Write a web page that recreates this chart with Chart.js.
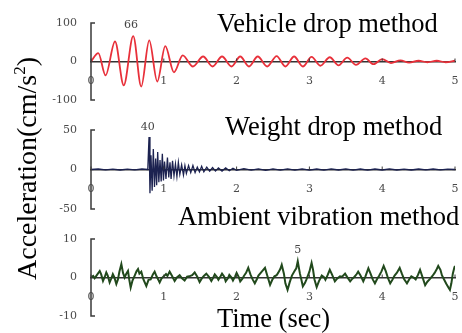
<!DOCTYPE html>
<html><head><meta charset="utf-8">
<script src="https://cdn.jsdelivr.net/npm/chart.js@4.4.1/dist/chart.umd.min.js"></script>
<style>
html,body{margin:0;padding:0;background:#fff;}
#wrap{position:relative;width:462px;height:333px;overflow:hidden;font-family:"Liberation Serif","Times New Roman",serif;}
canvas{position:absolute;left:0;}
.t{position:absolute;font-size:26.5px;color:#000;white-space:nowrap;line-height:1;}
#ylab{position:absolute;left:13px;top:280px;font-size:28px;line-height:1;white-space:nowrap;transform-origin:left top;transform:rotate(-90deg);}
</style></head><body>
<div id="wrap">
<canvas id="c1" width="462" height="110" style="top:0px"></canvas>
<canvas id="c2" width="462" height="110" style="top:110px"></canvas>
<canvas id="c3" width="462" height="113" style="top:220px"></canvas>
<div class="t" style="left:217px;top:10px">Vehicle drop method</div>
<div class="t" style="left:225px;top:113px">Weight drop method</div>
<div class="t" style="left:178px;top:203px">Ambient vibration method</div>
<div class="t" style="left:217px;top:305px">Time (sec)</div>
<div id="ylab">Acceleration(cm/s<span style="font-size:17px;position:relative;top:-11px">2</span>)</div>
</div>
<script>
// ---- data ----
const xTickLabels = [0, 1, 2, 3, 4, 5];

const vehicleTime = [0, 0.10, 0.20, 0.33, 0.45, 0.58, 0.69, 0.80, 0.91, 1.02,
  1.14, 1.26, 1.40, 1.54, 1.67, 1.80, 1.93, 2.05, 2.17, 2.29,
  2.42, 2.55, 2.67, 2.79, 2.91, 3.03, 3.15, 3.28, 3.40, 3.52,
  3.64, 3.77, 3.88, 4.00, 4.12, 4.25, 4.37, 4.50, 4.62, 4.75,
  4.87, 5.00];
const vehicleAccel = [0, 22, -36, 52, -62, 66, -65, 55, -52, 40,
  -28, 16, -13, 13, -13, 13, -13, 13, -13, 13,
  -13, 14, -13, 13, -13, 12, -11, 11, -10, 10,
  -9, 8, -7, 6, -4, 3, -3, 2, -2, 2,
  -2, 2];

const weightTime = [0, 0.1, 0.2, 0.3, 0.4, 0.5, 0.6, 0.7, 0.78,
  0.797, 0.81, 0.824, 0.84, 0.856, 0.872, 0.888, 0.902, 0.916, 0.932,
  0.948, 0.964, 0.98, 0.995, 1.01, 1.03, 1.05, 1.068, 1.085, 1.10,
  1.12, 1.14, 1.16, 1.18, 1.20, 1.22, 1.245, 1.27, 1.29, 1.31,
  1.34, 1.37, 1.40, 1.43, 1.46, 1.49, 1.52, 1.55, 1.59, 1.63,
  1.67, 1.71, 1.75, 1.80, 1.85, 1.90, 1.95, 2.0,
  2.1, 2.2, 2.3, 2.4, 2.5, 2.6, 2.7, 2.8, 2.9, 3.0,
  3.1, 3.2, 3.3, 3.4, 3.5, 3.6, 3.7, 3.8, 3.9, 4.0,
  4.1, 4.2, 4.3, 4.4, 4.5, 4.6, 4.7, 4.8, 4.9, 5.0];
const weightAccel = [0, 0.6, -0.5, 0.5, -0.6, 0.4, -0.5, 0.6, 0,
  41, -30, 18, -27, 26, -22, 14, -20, 22, -16,
  12, -15, 20, -14, 10, -12, 15, -10, 9, -12,
  11, -8, 7, -9, 9, -6, 6, -7, 5, -5,
  5, -4, 5, -4, 3, -3, 4, -3, 3, -2,
  2.5, -2, 2, -2, 2, -1.5, 1.5, -1,
  1, -0.8, 0.8, -1, 0.7, -0.8, 0.9, -0.7, 0.8, -0.8,
  0.6, -0.7, 0.8, -0.6, 0.7, -0.8, 0.6, -0.7, 0.6, -0.6,
  0.7, -0.6, 0.5, -0.6, 0.6, -0.5, 0.6, -0.5, 0.5, 0];

const ambientTime = [0, 0.03, 0.05, 0.08, 0.12, 0.14, 0.165, 0.19, 0.21, 0.23,
  0.256, 0.28, 0.30, 0.32, 0.348, 0.37, 0.39, 0.417, 0.44, 0.462,
  0.485, 0.508, 0.525, 0.545, 0.57, 0.60, 0.625, 0.646, 0.665, 0.691,
  0.72, 0.76, 0.79, 0.82, 0.85, 0.874, 0.90, 0.92, 0.943, 0.97,
  1.00, 1.03, 1.05, 1.08, 1.11, 1.149, 1.18, 1.218, 1.25, 1.286,
  1.32, 1.35, 1.39, 1.424, 1.46, 1.492, 1.52, 1.55, 1.584, 1.62,
  1.653, 1.68, 1.70, 1.73, 1.75, 1.78, 1.80, 1.83, 1.85, 1.88,
  1.90, 1.93, 1.95, 1.98, 2.00, 2.03, 2.05, 2.08, 2.10, 2.13,
  2.16, 2.19, 2.22, 2.25, 2.28, 2.30, 2.34, 2.39, 2.42, 2.46,
  2.49, 2.52, 2.55, 2.57, 2.60, 2.62, 2.65, 2.67, 2.70, 2.73,
  2.76, 2.80, 2.82, 2.84, 2.87, 2.89, 2.91, 2.94, 2.96, 3.00,
  3.03, 3.05, 3.07, 3.10, 3.13, 3.17, 3.20, 3.22, 3.25, 3.28,
  3.31, 3.35, 3.38, 3.42, 3.45, 3.49, 3.52, 3.56, 3.59, 3.62,
  3.65, 3.67, 3.70, 3.74, 3.77, 3.81, 3.84, 3.87, 3.90, 3.93,
  3.96, 3.99, 4.02, 4.05, 4.08, 4.11, 4.14, 4.17, 4.20, 4.24,
  4.27, 4.30, 4.34, 4.37, 4.40, 4.43, 4.46, 4.49, 4.52, 4.55,
  4.59, 4.62, 4.66, 4.69, 4.72, 4.75, 4.77, 4.80, 4.82, 4.85,
  4.88, 4.91, 4.93, 4.95, 4.97, 4.99, 5.00];
const ambientAccel = [0, 0.4, -0.2, 0.6, 1.7, 0.8, -0.9, 0.2, 1.3, 0.5,
  -1.3, -0.2, 0.9, 0.1, -1.7, -0.5, 1.5, 3.5, 1.2, 0,
  1.0, 1.7, -0.5, -2.6, -0.8, 0.5, 1.6, 2.2, 1.0, 1.5,
  -0.5, -2.2, -0.6, -0.5, 0.8, 1.5, 0.3, -0.4, -1.3, -0.2,
  0.3, 0.9, 0.4, 1.5, 0.5, -0.9, 0.0, 0.6, -0.2, -0.8,
  0.2, 0.3, 0.6, 1.3, 0.2, -1.2, -0.3, 0.4, 1.0, 0.2,
  -0.9, 0.0, 0.8, 0.1, -0.6, 0.3, 1.0, 0.2, -1.0, -0.2,
  0.7, 0.0, -0.8, 0.3, 1.2, 0.1, -1.0, -0.3, 0.4, 1.2,
  2.5, 0.8, -0.5, -1.5, -0.4, 0.5, 1.4, 2.5, 0.6, -1.9,
  -0.6, 0.3, 0.6, 1.2, 2.2, 3.3, 1.0, -1.5, -3.2, -1.2,
  0.5, 1.8, 2.4, 4.2, 1.0, -0.6, -2.3, -1.4, -0.5, 1.5,
  3.8, 2.0, -0.5, -2.5, -1.0, 0.5, 0.1, -0.6, 0.6, 2.0,
  0.8, -1.0, -0.3, 0.3, 0.2, 1.0, 0.1, -1.0, -0.3, 0.2,
  0.9, 1.5, 0.6, -1.0, 0.3, 2.4, 1.0, -0.5, -1.5, -0.4,
  0.5, 1.6, 3.0, 1.6, -0.2, -1.5, -0.6, 0.5, 1.2, 2.5,
  1.0, -0.4, -1.5, -0.5, 0.3, 0.0, -0.5, 0.6, 2.0, 0.3,
  -2.0, -1.1, -0.3, 0.4, 1.2, 2.2, 3.0, 2.0, 0.6, -0.5,
  -1.6, -2.6, -3.2, -1.5, 1.0, 2.5, 3.0];

const peakLabels = ['66', '40', '5'];
const peakTimes = [0.55, 0.78, 2.84];
const peakValues = [66, 40, 4.2];
const yLimits = [100, 50, 10];

// ---- drawing ----
const tickFont = {family: 'DejaVu Serif', size: 11};
const deco = {
  id: 'deco',
  afterDraw(chart, args, o) {
    const {ctx} = chart; const x = chart.scales.x, y = chart.scales.y;
    const ax = x.getPixelForValue(0);
    const top = y.getPixelForValue(y.max), bot = y.getPixelForValue(y.min);
    ctx.save();
    ctx.strokeStyle = '#3a3a3a'; ctx.lineWidth = 1.5;
    ctx.beginPath();
    ctx.moveTo(ax + 4, top); ctx.lineTo(ax, top); ctx.lineTo(ax, bot); ctx.lineTo(ax + 4, bot);
    ctx.stroke();
    const y0 = y.getPixelForValue(0);
    ctx.lineWidth = 1;
    x.ticks.forEach(t => {
      const px = x.getPixelForValue(t.value);
      ctx.beginPath(); ctx.moveTo(px, y0); ctx.lineTo(px, y0 - 3); ctx.stroke();
    });
    ctx.fillStyle = '#444'; ctx.font = '11px "DejaVu Serif"';
    ctx.textAlign = 'center'; ctx.textBaseline = 'middle';
    ctx.fillText(o.label, x.getPixelForValue(o.t), y.getPixelForValue(o.v) - 11);
    ctx.restore();
  }
};

function makeChart(id, xs, ys, color, width, lim, padTop, padBottom, smooth, k) {
  const pts = xs.map((t, i) => ({x: t, y: ys[i]}));
  return new Chart(document.getElementById(id), {
    type: 'line',
    data: {datasets: [{data: pts, borderColor: color, borderWidth: width, pointRadius: 0,
      tension: smooth ? 0.4 : 0, cubicInterpolationMode: smooth ? 'monotone' : 'default', fill: false}]},
    options: {
      responsive: false, animation: false, events: [],
      layout: {padding: {left: 51, right: 7, top: padTop, bottom: padBottom}},
      plugins: {legend: {display: false}, tooltip: {enabled: false},
        deco: {label: peakLabels[k], t: peakTimes[k], v: peakValues[k]}},
      scales: {
        x: {type: 'linear', min: xTickLabels[0], max: xTickLabels[xTickLabels.length - 1], position: {y: 0},
          afterFit: s => { s.height = 0; s.paddingLeft = 0; s.paddingRight = 0; s.paddingTop = 0; s.paddingBottom = 0; },
          grid: {display: false, drawTicks: false},
          border: {display: true, color: '#333', width: 1.5},
          ticks: {stepSize: 1, padding: 13, color: '#4a4a4a', font: tickFont, maxRotation: 0}},
        y: {type: 'linear', min: -lim, max: lim,
          afterFit: s => { s.width = 40; s.paddingTop = 0; s.paddingBottom = 0; },
          grid: {display: false, drawTicks: false},
          border: {display: false},
          ticks: {stepSize: lim, padding: 14, color: '#4a4a4a', font: tickFont}}
      }
    },
    plugins: [deco]
  });
}

makeChart('c1', vehicleTime, vehicleAccel, '#e8303a', 1.8, yLimits[0], 23, 10, true, 0);
makeChart('c2', weightTime, weightAccel, '#1c2250', 1.3, yLimits[1], 20, 11, false, 1);
makeChart('c3', ambientTime, ambientAccel, '#21491c', 2.0, yLimits[2], 19, 17, false, 2);
</script>
</body></html>
